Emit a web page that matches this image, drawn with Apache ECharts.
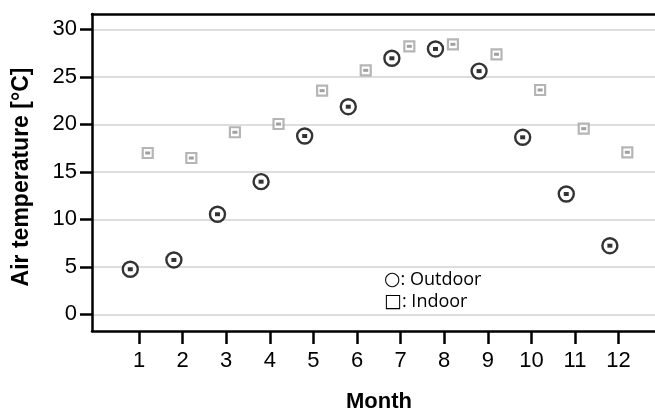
<!DOCTYPE html>
<html>
<head>
<meta charset="utf-8">
<script src="https://cdn.jsdelivr.net/npm/echarts@6/dist/echarts.min.js"></script>
<style>
  html, body { margin: 0; padding: 0; background: #fff; }
  #chart { width: 655px; height: 412px; }
</style>
</head>
<body>
<div id="chart"></div>
<script>
// Monthly mean air temperature, outdoor vs indoor
const months = [1, 2, 3, 4, 5, 6, 7, 8, 9, 10, 11, 12];
const outdoor = [4.74, 5.72, 10.53, 13.96, 18.77, 21.85, 26.95, 27.93, 25.60, 18.63, 12.66, 7.22];
const indoor = [16.98, 16.45, 19.16, 20.03, 23.54, 25.68, 28.21, 28.42, 27.37, 23.61, 19.54, 17.05];
const yTicks = [0, 5, 10, 15, 20, 25, 30];

// outdoor points sit left of the month tick, indoor points right of it
const shift = 0.2;
const outdoorPts = months.map((m, i) => [m - shift, outdoor[i]]);
const indoorPts = months.map((m, i) => [m + shift, indoor[i]]);

const X_MIN = -0.078, X_MAX = 12.835;
const Y_MIN = -1.76, Y_MAX = 31.61;
const AXIS_W = 2.5;
const numFont = 'Liberation Sans, Arial, sans-serif';

const chart = echarts.init(document.getElementById('chart'), null, { renderer: 'canvas' });

const legendRich = {
  sym: { fontFamily: 'DejaVu Sans', fontSize: 19, color: '#111' },
  txt: { fontFamily: 'Open Sans, sans-serif', fontSize: 18, color: '#111' }
};

chart.setOption({
  animation: false,
  backgroundColor: '#ffffff',
  grid: { left: 92, right: 0, top: 14, bottom: 81 },
  xAxis: [
    {
      type: 'value', min: X_MIN, max: X_MAX, position: 'bottom',
      axisLine: { show: true, onZero: false, lineStyle: { color: '#000', width: AXIS_W } },
      axisTick: { show: true, customValues: months, length: 13, lineStyle: { color: '#000', width: AXIS_W } },
      axisLabel: { show: true, customValues: months, color: '#000', fontSize: 22, fontFamily: numFont, margin: 19 },
      splitLine: { show: false }
    },
    {
      type: 'value', min: X_MIN, max: X_MAX, position: 'top',
      axisLine: { show: true, onZero: false, lineStyle: { color: '#000', width: AXIS_W } },
      axisTick: { show: false }, axisLabel: { show: false }, splitLine: { show: false }
    }
  ],
  yAxis: {
    type: 'value', min: Y_MIN, max: Y_MAX,
    axisLine: { show: true, onZero: false, lineStyle: { color: '#000', width: AXIS_W } },
    axisTick: { show: true, customValues: yTicks, length: 12, lineStyle: { color: '#000', width: AXIS_W } },
    axisLabel: { show: true, customValues: yTicks, color: '#000', fontSize: 22, fontFamily: numFont, margin: 15 },
    splitLine: { show: true, lineStyle: { color: '#d2d2d2', width: 1.5 } }
  },
  series: [
    {
      name: 'Outdoor', type: 'scatter', data: outdoorPts, symbol: 'circle', symbolSize: 15,
      itemStyle: { color: '#fff', borderColor: '#000', borderWidth: 2.4 }, z: 3
    },
    {
      name: 'Outdoor spread', type: 'scatter', data: outdoorPts, symbol: 'rect', symbolSize: [5, 4],
      itemStyle: { color: '#000' }, z: 4, silent: true
    },
    {
      name: 'Indoor', type: 'scatter', data: indoorPts, symbol: 'rect', symbolSize: 10,
      itemStyle: { color: '#fff', borderColor: '#a3a3a3', borderWidth: 2.2 }, z: 3
    },
    {
      name: 'Indoor spread', type: 'scatter', data: indoorPts, symbol: 'rect', symbolSize: [5, 3],
      itemStyle: { color: '#888' }, z: 4, silent: true
    }
  ],
  graphic: [
    {
      type: 'text', x: 22, y: 177, rotation: Math.PI / 2,
      style: {
        text: 'Air temperature [°C]', fill: '#000', font: 'bold 23px Liberation Sans, Arial, sans-serif',
        align: 'center', verticalAlign: 'middle'
      }
    },
    {
      type: 'text', x: 379, y: 402,
      style: {
        text: 'Month', fill: '#000', font: 'bold 22px Liberation Sans, Arial, sans-serif',
        align: 'center', verticalAlign: 'middle'
      }
    },
    {
      type: 'text', x: 384, y: 280,
      style: {
        text: '{sym|○}{txt|: Outdoor}', rich: legendRich,
        align: 'left', verticalAlign: 'middle'
      }
    },
    {
      type: 'text', x: 384, y: 302,
      style: {
        text: '{sym|□}{txt|: Indoor}', rich: legendRich,
        align: 'left', verticalAlign: 'middle'
      }
    }
  ]
});
</script>
</body>
</html>
